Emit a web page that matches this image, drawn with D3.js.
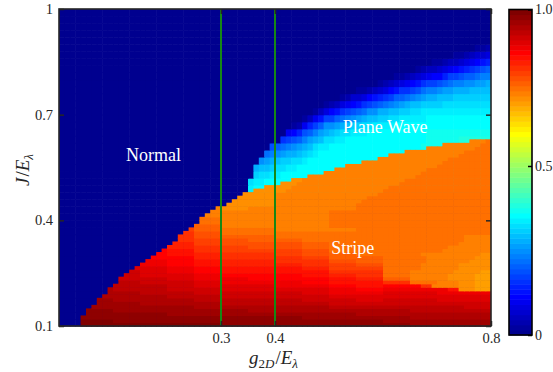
<!DOCTYPE html>
<html>
<head>
<meta charset="utf-8">
<script src="https://cdn.jsdelivr.net/npm/d3@7"></script>
<style>
    body { margin: 0; background: #fff; }
    svg { display: block; font-family: "Liberation Serif", "Times New Roman", serif; }
</style>
</head>
<body>
<div id="chart"></div>
<script>
// axes extents and ticks
const gExtent = [0, 0.8];
const jExtent = [0.1, 1.0];
const xTicks = [0.3, 0.4, 0.8];
const yTicks = [0.1, 0.4, 0.7, 1];
const yTickLabels = ["0.1", "0.4", "0.7", "1"];
const cbarTicks = [0, 0.5, 0.963];
const cbarTickLabels = ["0", "0.5", "1.0"];
const markerLines = [0.3, 0.4];

// phase labels (data coords)
const phaseNames = ["Normal", "Plane Wave", "Stripe"];
const phaseG = [0.175, 0.604, 0.544];
const phaseJ = [0.568, 0.649, 0.304];

// cells: one char per level 0..63 (value = level / 63), run-length coded "char:count", "." = empty
const LEVELS = "0123456789ABCDEFGHIJKLMNOPQRSTUVWXYZabcdefghijklmnopqrstuvwxyz+/";
const nCols = 80;   // g step 0.01

// normal + plane wave phases, J step 0.02 from J = 0.1 upwards
const planeWaveJStep = 0.02;
const planeWaveRows = [
    "0:80", "0:80", "0:80", "0:80", "0:80", "0:80", "0:80", "0:80", "0:80", "0:80",
    "0:80", "0:80", "0:80", "0:80", "0:80", "0:80", "0:80", "0:80", "0:80",
    "0:35 M:1 N:44",
    "0:35 L:1 M:2 N:42",
    "0:36 K:1 L:2 M:2 N:39",
    "0:36 I:1 J:2 K:1 L:2 M:2 N:36",
    "0:37 G:1 H:1 I:1 J:1 K:2 L:2 M:1 N:34",
    "0:38 E:1 F:1 G:1 H:1 I:2 J:1 K:1 L:1 M:1 N:32",
    "0:39 C:1 D:1 E:1 F:1 G:1 H:1 I:1 J:1 L:1 M:2 N:17 O:13",
    "0:41 A:1 B:1 C:1 D:1 F:1 H:1 I:1 J:1 L:2 M:2 N:15 O:6 P:6",
    "0:42 6:1 7:1 9:1 C:1 D:1 F:1 H:1 I:1 J:1 K:1 L:2 M:3 N:11 O:12",
    "0:43 1:1 2:1 6:1 9:1 B:1 D:1 G:2 H:1 I:1 J:1 K:2 L:2 M:4 N:18",
    "0:45 1:1 3:1 6:1 8:1 B:2 D:1 E:1 F:1 G:1 H:1 I:1 J:2 K:2 L:2 M:5 N:12",
    "0:47 1:1 3:1 5:1 7:1 8:1 A:1 B:1 C:1 D:1 E:1 G:2 I:2 J:2 K:2 L:2 M:13",
    "0:49 1:1 2:1 3:1 5:1 6:1 7:1 8:1 A:1 B:1 C:1 D:1 E:1 F:1 G:1 H:1 I:1 J:2 K:4 L:9",
    "0:52 1:1 2:1 4:2 5:1 7:1 8:1 9:1 A:1 B:1 D:2 E:1 F:1 G:1 H:1 I:2 J:3 K:7",
    "0:55 1:2 2:1 3:1 4:1 5:1 7:1 8:1 A:2 B:1 C:1 E:1 F:2 G:1 H:2 I:3 J:4",
    "0:59 1:1 2:1 3:1 4:1 5:1 6:1 7:1 8:1 A:1 B:2 C:1 D:1 E:1 F:2 G:2 H:2 I:1",
    "0:62 1:2 2:1 3:1 4:1 5:1 6:1 7:2 9:1 B:2 C:1 D:2 E:1 F:2",
    "0:66 1:1 2:1 3:2 4:1 5:1 6:1 7:1 8:1 9:1 A:1 B:1 C:1 D:1",
    "0:69 1:2 2:1 3:2 4:1 5:1 6:1 7:1 8:1 9:1",
    "0:73 1:2 2:1 3:1 4:2 5:1",
    "0:77 1:2 2:1",
    "0:80", "0:80", "0:80", "0:80", "0:80"
];

// stripe phase, J step 0.01 from J = 0.1 upwards
const stripeJStep = 0.01;
const stripeRows = [
    ".:4 /:26 +:35 z:15",
    ".:4 /:6 +:50 z:20",
    ".:4 +:41 z:20 y:15",
    ".:5 +:15 z:35 y:25",
    ".:5 +:5 z:25 y:30 x:15",
    ".:6 z:19 y:25 x:25 w:5",
    ".:7 z:8 y:15 x:20 w:30",
    ".:7 z:3 y:15 x:20 w:10 v:5 w:10 v:10",
    ".:8 y:12 x:10 w:20 v:30",
    ".:9 y:6 x:10 w:20 v:5 u:10 v:10 u:10",
    ".:9 y:1 x:10 w:10 v:20 u:5 t:5 u:12 s:2 k:3 j:3",
    ".:10 x:10 w:5 v:15 u:10 t:5 s:5 t:7 q:2 l:5 k:3 j:3",
    ".:11 x:4 w:10 v:5 u:15 t:5 s:10 q:5 m:5 l:4 k:3 j:3",
    ".:11 w:9 v:5 u:10 t:15 s:5 r:5 n:5 l:7 k:5 j:3",
    ".:12 w:3 v:10 u:5 t:15 s:5 r:5 q:5 m:5 l:7 k:5 j:3",
    ".:13 w:2 v:5 u:5 t:5 s:20 q:10 m:5 l:8 k:5 j:2",
    ".:14 v:6 u:5 t:5 s:15 r:5 p:10 m:7 l:7 k:6",
    ".:15 u:5 t:5 s:5 r:15 q:5 p:5 o:5 m:7 l:7 k:6",
    ".:16 u:4 t:5 s:5 r:10 q:10 o:5 n:5 m:8 l:8 k:4",
    ".:17 t:8 r:5 q:15 p:5 n:10 m:8 l:9 k:3",
    ".:18 t:2 s:5 r:5 q:10 p:5 o:5 n:5 m:12 l:11 k:2",
    ".:19 t:1 s:5 q:5 p:15 o:5 m:21 l:9",
    ".:20 r:5 q:5 p:5 o:10 n:5 m:22 l:8",
    ".:21 r:4 p:5 o:15 n:5 m:24 l:6",
    ".:22 q:3 p:5 o:5 n:10 m:30 l:5",
    ".:22 q:3 o:5 n:10 m:35 l:5",
    ".:23 q:2 o:5 m:50",
    ".:24 p:1 n:5 m:10 l:15 m:25",
    ".:25 n:5 l:20 m:30",
    ".:26 m:4 l:20 m:30",
    ".:26 m:4 l:20 m:30",
    ".:27 l:23 m:30",
    ".:28 l:22 m:30",
    ".:29 l:1 k:5 l:20 m:25",
    ".:31 k:9 l:15 m:25",
    ".:32 k:8 l:16 m:24",
    ".:33 k:7 l:17 m:23",
    ".:34 k:6 l:19 m:21",
    ".:36 k:6 l:18 m:20",
    ".:38 k:5 l:18 m:19",
    ".:41 k:3 l:19 m:17",
    ".:43 k:2 l:19 m:16",
    ".:46 l:20 m:14",
    ".:49 l:18 m:13",
    ".:51 l:17 m:12",
    ".:53 l:17 m:10",
    ".:56 l:15 m:9",
    ".:59 l:13 m:8",
    ".:61 l:13 m:6",
    ".:64 l:11 m:5",
    ".:68 l:9 m:3",
    ".:71 l:7 m:2",
    ".:76 l:3 m:1"
];

// MATLAB style jet, 64 entries
function jet(v) {
    const u = k => (k >= 1 && k <= 16) ? k / 16 : (k > 16 && k <= 31) ? 1 : (k >= 32 && k <= 47) ? (48 - k) / 16 : 0;
    const i = Math.min(63, Math.floor(v * 64)) + 1;
    return d3.rgb(255 * u(i - 24), 255 * u(i - 8), 255 * u(i + 8)).toString();
}

function decodeRow(row) {
    const out = [];
    row.split(" ").forEach(t => {
        const lvl = t[0] === "." ? null : LEVELS.indexOf(t[0]) / 63;
        const n = +t.slice(2);
        for (let i = 0; i < n; i++) out.push(lvl);
    });
    while (out.length < nCols) out.push(out[out.length - 1]);
    return out.slice(0, nCols);
}

function toCells(rows, jStep) {
    const gStep = (gExtent[1] - gExtent[0]) / nCols;
    const cells = [];
    rows.forEach((row, ri) => {
        decodeRow(row).forEach((v, ci) => {
            if (v === null) return;
            cells.push({ g: gExtent[0] + ci * gStep, j: jExtent[0] + ri * jStep, gStep: gStep, jStep: jStep, v: v });
        });
    });
    return cells;
}

function draw() {
    const width = 553, height = 372;
    const left = 59, right = 491, top = 9, bottom = 326;
    const ink = "#262626";

    const svg = d3.select("#chart").append("svg")
        .attr("width", width)
        .attr("height", height);

    const x = d3.scaleLinear().domain(gExtent).range([left, right]);
    const y = d3.scaleLinear().domain(jExtent).range([bottom, top]);

    function drawCells(cells) {
        svg.append("g")
            .selectAll("rect")
            .data(cells)
            .join("rect")
            .attr("x", d => x(d.g))
            .attr("y", d => y(Math.min(jExtent[1], d.j + d.jStep)))
            .attr("width", d => Math.min(x(d.g + d.gStep) - x(d.g) + 0.6, right - x(d.g)))
            .attr("height", d => y(d.j) - y(Math.min(jExtent[1], d.j + d.jStep)) + 0.6)
            .attr("fill", d => jet(d.v));
    }

    drawCells(toCells(planeWaveRows, planeWaveJStep));
    drawCells(toCells(stripeRows, stripeJStep));

    // vertical marker lines
    svg.append("g")
        .selectAll("line")
        .data(markerLines)
        .join("line")
        .attr("x1", d => x(d)).attr("x2", d => x(d))
        .attr("y1", top).attr("y2", bottom)
        .attr("stroke", "#168816")
        .attr("stroke-width", 2);

    // phase labels
    svg.append("g")
        .selectAll("text")
        .data(phaseNames)
        .join("text")
        .attr("x", (d, i) => x(phaseG[i]))
        .attr("y", (d, i) => y(phaseJ[i]))
        .attr("text-anchor", "middle")
        .attr("fill", "#fff")
        .style("font-size", "18px")
        .text(d => d);

    // box
    svg.append("rect")
        .attr("x", left).attr("y", top)
        .attr("width", right - left).attr("height", bottom - top)
        .attr("fill", "none")
        .attr("stroke", ink)
        .attr("stroke-width", 1.6);

    // axes (inward ticks, mirrored)
    svg.append("g")
        .attr("transform", `translate(0,${bottom})`)
        .call(d3.axisBottom(x).tickValues(xTicks).tickSize(-5).tickPadding(7)
            .tickFormat(d3.format(".1f")));
    svg.append("g")
        .attr("transform", `translate(0,${top})`)
        .call(d3.axisTop(x).tickValues(xTicks).tickSize(-5).tickFormat(""));
    svg.append("g")
        .attr("transform", `translate(${left},0)`)
        .call(d3.axisLeft(y).tickValues(yTicks).tickSize(-5).tickPadding(6)
            .tickFormat((d, i) => yTickLabels[i]));
    svg.append("g")
        .attr("transform", `translate(${right},0)`)
        .call(d3.axisRight(y).tickValues(yTicks).tickSize(-5).tickFormat(""));

    svg.selectAll(".domain").remove();
    svg.selectAll(".tick line").attr("stroke", ink).attr("stroke-width", 1.5);
    svg.selectAll(".tick text")
        .attr("fill", ink)
        .style("font-family", "'Liberation Serif', serif")
        .style("font-size", "14.5px");

    // axis titles
    const xt = svg.append("text")
        .attr("x", 273.5).attr("y", 364)
        .attr("text-anchor", "middle")
        .attr("fill", ink)
        .style("font-size", "19px");
    xt.append("tspan").style("font-style", "italic").text("g");
    xt.append("tspan").attr("dy", 4).style("font-size", "13px").text("2");
    xt.append("tspan").style("font-size", "13px").style("font-style", "italic").text("D");
    xt.append("tspan").attr("dy", -4).attr("dx", 1).text("/");
    xt.append("tspan").style("font-style", "italic").text("E");
    xt.append("tspan").attr("dy", 4).style("font-size", "13px").style("font-style", "italic").text("λ");

    const yt = svg.append("text")
        .attr("transform", "translate(29,170) rotate(-90)")
        .attr("text-anchor", "middle")
        .attr("fill", ink)
        .style("font-size", "19px");
    yt.append("tspan").style("font-style", "italic").text("J");
    yt.append("tspan").attr("dx", 1).text("/");
    yt.append("tspan").style("font-style", "italic").text("E");
    yt.append("tspan").attr("dy", 4).style("font-size", "13px").style("font-style", "italic").text("λ");

    // colorbar
    const cbLeft = 509, cbRight = 532, cbTop = 9.5, cbBottom = 335;
    const cScale = d3.scaleLinear().domain([0, cbarTicks[2]]).range([cbBottom, cbTop]);
    const bands = d3.range(64);
    const bh = (cbBottom - cbTop) / 64;
    svg.append("g")
        .selectAll("rect")
        .data(bands)
        .join("rect")
        .attr("x", cbLeft)
        .attr("y", d => cbBottom - (d + 1) * bh)
        .attr("width", cbRight - cbLeft)
        .attr("height", bh + 0.5)
        .attr("fill", d => jet((d + 0.5) / 64));
    svg.append("rect")
        .attr("x", cbLeft).attr("y", cbTop)
        .attr("width", cbRight - cbLeft).attr("height", cbBottom - cbTop)
        .attr("fill", "none")
        .attr("stroke", "#000")
        .attr("stroke-width", 1.6);
    svg.append("g")
        .attr("transform", `translate(${cbRight},0)`)
        .call(d3.axisRight(cScale).tickValues(cbarTicks).tickSize(-4).tickPadding(3)
            .tickFormat((d, i) => cbarTickLabels[i]))
        .call(g => g.select(".domain").remove())
        .call(g => g.selectAll(".tick line").attr("stroke", "#000").attr("stroke-width", 1.5))
        .call(g => g.selectAll(".tick text")
            .attr("fill", ink)
            .style("font-family", "'Liberation Serif', serif")
            .style("font-size", "14px"));
}

draw();
</script>
</body>
</html>
